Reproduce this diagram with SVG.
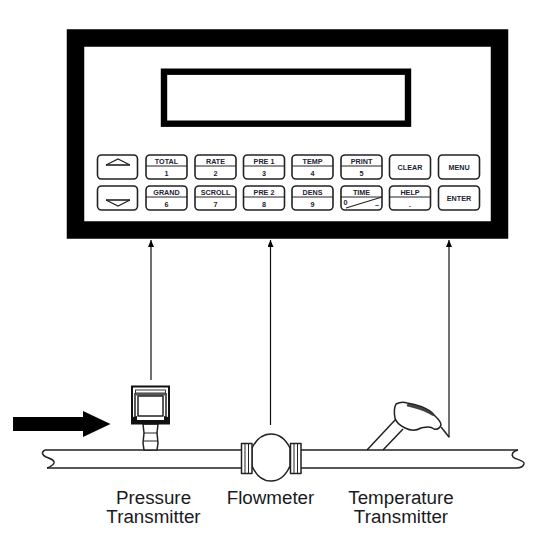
<svg xmlns="http://www.w3.org/2000/svg" width="536" height="546" viewBox="0 0 536 546">
<defs>
<marker id="ah" markerUnits="userSpaceOnUse" markerWidth="8" markerHeight="9" refX="7" refY="3" orient="auto"><path d="M0 0L7 3L0 6Z" fill="#000"/></marker>
</defs>
<style>
.k{fill:#fff;stroke:#222;stroke-width:1.6}
.d{stroke:#222;stroke-width:1;fill:none}
.t{font-family:"Liberation Sans",Arial,sans-serif;font-weight:700;font-size:7.2px;text-anchor:middle;fill:#223}
.l{font-family:"Liberation Sans",Arial,sans-serif;font-size:18.8px;text-anchor:middle;fill:#1a1a22}
.p{fill:none;stroke:#222;stroke-width:1.5;stroke-linejoin:round}
.w{fill:#fff;stroke:#222;stroke-width:1.5;stroke-linejoin:round}
.c{fill:none;stroke:#111;stroke-width:1.2}
</style>
<rect width="536" height="546" fill="#fff"/>
<g id="panel">
<rect x="75.5" y="38" width="424" height="192" fill="#fff" stroke="#000" stroke-width="17.5"/>
<rect x="164" y="71.700" width="244" height="52" fill="#fff" stroke="#000" stroke-width="6.400"/>
</g>
<g id="key-up"><rect class="k" x="97.500" y="155" width="40" height="24" rx="4"/><path d="M106 165L118 159L130 165" fill="none" stroke="#222" stroke-width="1.200"/><path d="M106 165H130" stroke="#222" stroke-width="1.600"/></g>
<g id="key-down"><rect class="k" x="97.500" y="186" width="40" height="24" rx="4"/><path d="M106 200L118 206L130 200" fill="none" stroke="#222" stroke-width="1.200"/><path d="M106 200H130" stroke="#222" stroke-width="1.600"/></g>
<g id="key-total"><rect class="k" x="146" y="155" width="41" height="24" rx="4"/><path class="d" d="M146 166H187"/><text class="t" x="166.500" y="163.500">TOTAL</text><text class="t" x="166.500" y="175.500">1</text></g>
<g id="key-rate"><rect class="k" x="195" y="155" width="41" height="24" rx="4"/><path class="d" d="M195 166H236"/><text class="t" x="215.500" y="163.500">RATE</text><text class="t" x="215.500" y="175.500">2</text></g>
<g id="key-pre1"><rect class="k" x="243.500" y="155" width="41" height="24" rx="4"/><path class="d" d="M243.500 166H284.500"/><text class="t" x="264" y="163.500">PRE 1</text><text class="t" x="264" y="175.500">3</text></g>
<g id="key-temp"><rect class="k" x="292" y="155" width="41" height="24" rx="4"/><path class="d" d="M292 166H333"/><text class="t" x="312.500" y="163.500">TEMP</text><text class="t" x="312.500" y="175.500">4</text></g>
<g id="key-print"><rect class="k" x="341" y="155" width="41" height="24" rx="4"/><path class="d" d="M341 166H382"/><text class="t" x="361.500" y="163.500">PRINT</text><text class="t" x="361.500" y="175.500">5</text></g>
<g id="key-clear"><rect class="k" x="389.500" y="155" width="41" height="24" rx="4"/><text class="t" x="410" y="170">CLEAR</text></g>
<g id="key-menu"><rect class="k" x="438.500" y="155" width="41" height="24" rx="4"/><text class="t" x="459" y="170">MENU</text></g>
<g id="key-grand"><rect class="k" x="146" y="186" width="41" height="24" rx="4"/><path class="d" d="M146 197H187"/><text class="t" x="166.500" y="194.500">GRAND</text><text class="t" x="166.500" y="206.500">6</text></g>
<g id="key-scroll"><rect class="k" x="195" y="186" width="41" height="24" rx="4"/><path class="d" d="M195 197H236"/><text class="t" x="215.500" y="194.500">SCROLL</text><text class="t" x="215.500" y="206.500">7</text></g>
<g id="key-pre2"><rect class="k" x="243.500" y="186" width="41" height="24" rx="4"/><path class="d" d="M243.500 197H284.500"/><text class="t" x="264" y="194.500">PRE 2</text><text class="t" x="264" y="206.500">8</text></g>
<g id="key-dens"><rect class="k" x="292" y="186" width="41" height="24" rx="4"/><path class="d" d="M292 197H333"/><text class="t" x="312.500" y="194.500">DENS</text><text class="t" x="312.500" y="206.500">9</text></g>
<g id="key-time"><rect class="k" x="341" y="186" width="41" height="24" rx="4"/><path class="d" d="M341 197H382"/><path d="M346 208L382 197" stroke="#222" stroke-width="1.100" fill="none"/><text class="t" x="361.500" y="194.500">TIME</text><text class="t" x="345.500" y="205">0</text><text class="t" x="377" y="207">–</text></g>
<g id="key-help"><rect class="k" x="389.500" y="186" width="41" height="24" rx="4"/><path class="d" d="M389.500 197H430.500"/><text class="t" x="410" y="194.500">HELP</text><text class="t" x="410" y="206.500">.</text></g>
<g id="key-enter"><rect class="k" x="438.500" y="186" width="41" height="24" rx="4"/><text class="t" x="459" y="201">ENTER</text></g>

<g id="pipe">
<path class="p" d="M45 450H518M47 468H516"/>
<path class="p" d="M45 450C41 452 42 455 46 457C51 459 55 460 54 463C53 465 50 467 47 468"/>
<path class="p" d="M518 450C513 451 511 454 513 457C516 460 525 460 524 464C523 467 520 468 516 468"/>
</g>
<g id="flowmeter">
<path class="w" d="M252 448C256 440 262 434 271 434C280 434 286 440 290 448V466C286 475 280 481 271 481C262 481 256 475 252 466Z"/>
<rect class="w" x="241.500" y="443.500" width="10.500" height="30"/>
<path class="d" d="M245 443.500V473.500M248.500 443.500V473.500"/>
<rect class="w" x="290.500" y="443.500" width="10.500" height="30"/>
<path class="d" d="M294 443.500V473.500M297.500 443.500V473.500"/>
</g>
<g id="pressure-transmitter">
<path class="w" d="M143 424L144 433L143 443L144 450H157L158 443L157 433L158 424Z"/>
<path class="d" d="M144 433H157M143 441H158"/>
<rect x="132" y="386.500" width="37" height="37" fill="#fff" stroke="#111" stroke-width="2"/>
<rect x="135.500" y="390" width="30" height="3" fill="#fff" stroke="#222" stroke-width="0.900"/>
<rect x="136" y="393" width="29" height="2.500" fill="#555"/>
<path class="p" d="M135 393V420M166 393V420"/>
<path class="p" d="M138 396H163V416H138Z" stroke-width="1"/>
<path d="M133 417L137 416V423H133ZM168 417L164 416V423H168Z" fill="#111"/>
<path d="M133 421.500H168" stroke="#111" stroke-width="3"/>
</g>
<g id="temperature-transmitter">
<path class="p" d="M367 450L396 419M383 450L403 429"/>
<path class="w" d="M396 404C400 402 404 402 407 403C415 404 429 408 434 415C437 418 441 421 441 425C440 428 437 430 434 429C430 426 426 427 421 428C416 431 411 431 405 428C399 425 396 422 395 418C394 413 394 408 396 404Z"/>
<path d="M408 403.500C416 405 428 408 434 415L432.500 415.500C426 411 416 408 407 406Z" fill="#444" stroke="#222" stroke-width="0.600"/>
<path class="p" d="M441 427L449 437"/>
</g>
<g id="flow-arrow"><path d="M13 417H83V411L110.500 424L83 437V431H13Z" fill="#000"/></g>
<g id="connectors">
<path class="c" d="M151 380V240" marker-end="url(#ah)"/>
<path class="c" d="M270.500 425V240" marker-end="url(#ah)"/>
<path class="c" d="M449 437.500V240" marker-end="url(#ah)"/>
</g>
<g id="labels">
<text class="l" x="153.500" y="504">Pressure</text>
<text class="l" x="153.500" y="523">Transmitter</text>
<text class="l" x="270.500" y="504">Flowmeter</text>
<text class="l" x="401" y="504">Temperature</text>
<text class="l" x="401" y="523">Transmitter</text>
</g>
</svg>
